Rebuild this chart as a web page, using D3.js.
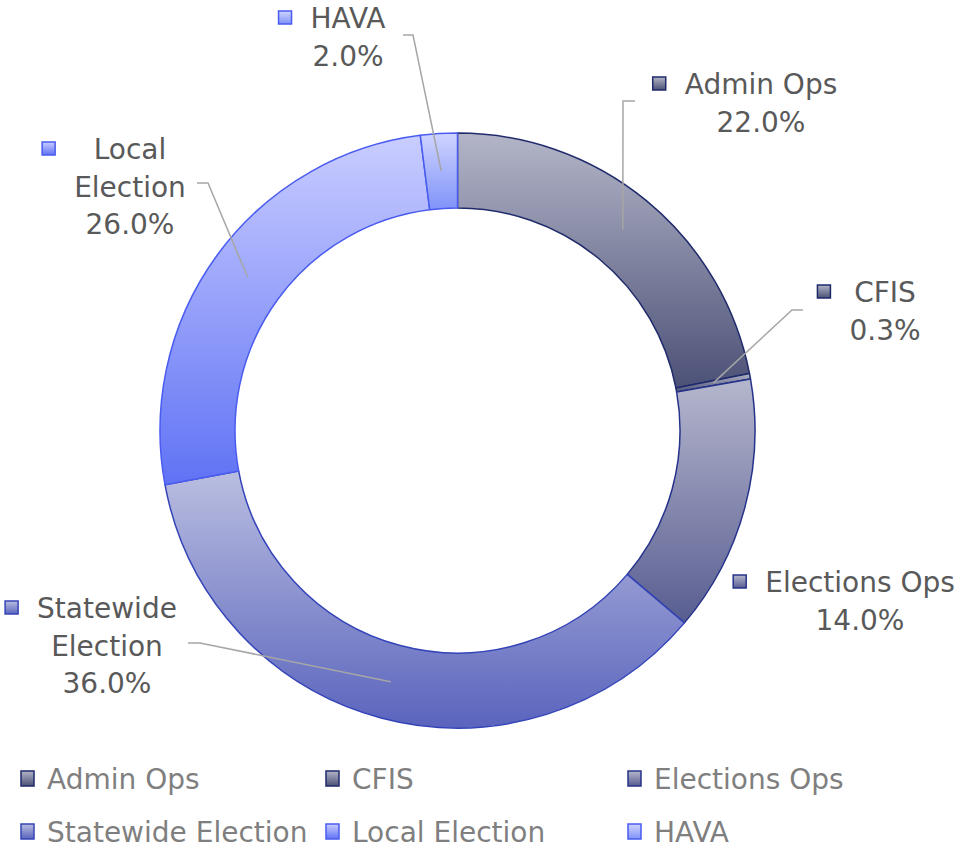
<!DOCTYPE html>
<html>
<head>
<meta charset="utf-8">
<script src="https://cdn.jsdelivr.net/npm/d3@7"></script>
<style>
  body { margin: 0; background: #fff; }
  svg { display: block; font-family: "DejaVu Sans", sans-serif; }
</style>
</head>
<body>
<svg id="chart" width="959" height="850"></svg>
<script>
// budget share by program
const categories = ['Admin Ops', 'CFIS', 'Elections Ops', 'Statewide Election', 'Local Election', 'HAVA']
const values = [22.0, 0.3, 14.0, 36.0, 26.0, 2.0]
const labelLines = [['Admin Ops'], ['CFIS'], ['Elections Ops'], ['Statewide', 'Election'], ['Local', 'Election'], ['HAVA']]

// colours: light top / dark bottom of each slice gradient, and outline
const lightColors = ['#b3b5c7', '#b3b5c7', '#b5b7cd', '#babee0', '#c9cdff', '#cfd4ff']
const darkColors = ['#4c5177', '#4c5177', '#585d91', '#5a64bd', '#6072f5', '#8093f8']
const strokeColors = ['#1f2a6b', '#1f2a6b', '#26338a', '#3444b8', '#4a5cf0', '#4a5cf0']

// label placement: centre x, first baseline, leader start and elbow
const labelLayout = [
    { cx: 761, y: 94, lx: 635, ly: 101, ex: 623 },
    { cx: 885, y: 302, lx: 803, ly: 310, ex: 792 },
    { cx: 860, y: 592, lx: null },
    { cx: 107, y: 618, lx: 188, ly: 643, ex: 200 },
    { cx: 130, y: 159, lx: 197, ly: 183, ex: 208 },
    { cx: 348, y: 28, lx: 403, ly: 35, ex: 413 }
]

const svg = d3.select('#chart')
const cx = 457.5, cy = 430.5
const outerR = 297.5, innerR = 222.5
const lineH = 37.5

const defs = svg.append('defs')
categories.forEach((c, i) => {
    const g = defs.append('linearGradient')
        .attr('id', 'grad' + i)
        .attr('x1', 0).attr('y1', 0).attr('x2', 0).attr('y2', 1)
    g.append('stop').attr('offset', '0%').attr('stop-color', lightColors[i])
    g.append('stop').attr('offset', '100%').attr('stop-color', darkColors[i])
})

const pie = d3.pie().sort(null).value(d => d)
const arcs = pie(values)
const arc = d3.arc().innerRadius(innerR).outerRadius(outerR)

const donut = svg.append('g').attr('transform', `translate(${cx},${cy})`)
donut.selectAll('path')
    .data(arcs)
    .enter()
    .append('path')
    .attr('d', arc)
    .attr('fill', (d, i) => `url(#grad${i})`)
    .attr('stroke', (d, i) => strokeColors[i])
    .attr('stroke-width', 1.5)
    .attr('stroke-linejoin', 'round')

// leader lines
arcs.forEach((a, i) => {
    const L = labelLayout[i]
    if (L.lx == null) return
    const c = arc.centroid(a)
    svg.append('polyline')
        .attr('points', [[L.lx, L.ly], [L.ex, L.ly], [cx + c[0], cy + c[1]]].map(p => p.join(',')).join(' '))
        .attr('fill', 'none')
        .attr('stroke', '#a6a6a6')
        .attr('stroke-width', 1.5)
})

// data labels
arcs.forEach((a, i) => {
    const L = labelLayout[i]
    const lines = labelLines[i].concat([values[i].toFixed(1) + '%'])
    const g = svg.append('g')
    let maxW = 0
    lines.forEach((t, k) => {
        const txt = g.append('text')
            .attr('x', L.cx)
            .attr('y', L.y + k * lineH)
            .attr('text-anchor', 'middle')
            .attr('font-size', 28)
            .attr('fill', '#595959')
            .text(t)
        maxW = Math.max(maxW, txt.node().getComputedTextLength())
    })
    g.append('rect')
        .attr('x', L.cx - maxW / 2 - 32)
        .attr('y', L.y - 17)
        .attr('width', 13)
        .attr('height', 13)
        .attr('fill', `url(#grad${i})`)
        .attr('stroke', strokeColors[i])
        .attr('stroke-width', 1.5)
})

// legend
const legendX = [21, 326, 628]
const legendY = [779, 832]
categories.forEach((c, i) => {
    const x = legendX[i % 3], y = legendY[Math.floor(i / 3)]
    svg.append('rect')
        .attr('x', x).attr('y', y - 8)
        .attr('width', 13).attr('height', 15)
        .attr('fill', `url(#grad${i})`)
        .attr('stroke', strokeColors[i])
        .attr('stroke-width', 1.5)
    svg.append('text')
        .attr('x', x + 26)
        .attr('y', y + 10)
        .attr('font-size', 28)
        .attr('fill', '#7f7f7f')
        .text(c)
})
</script>
</body>
</html>
